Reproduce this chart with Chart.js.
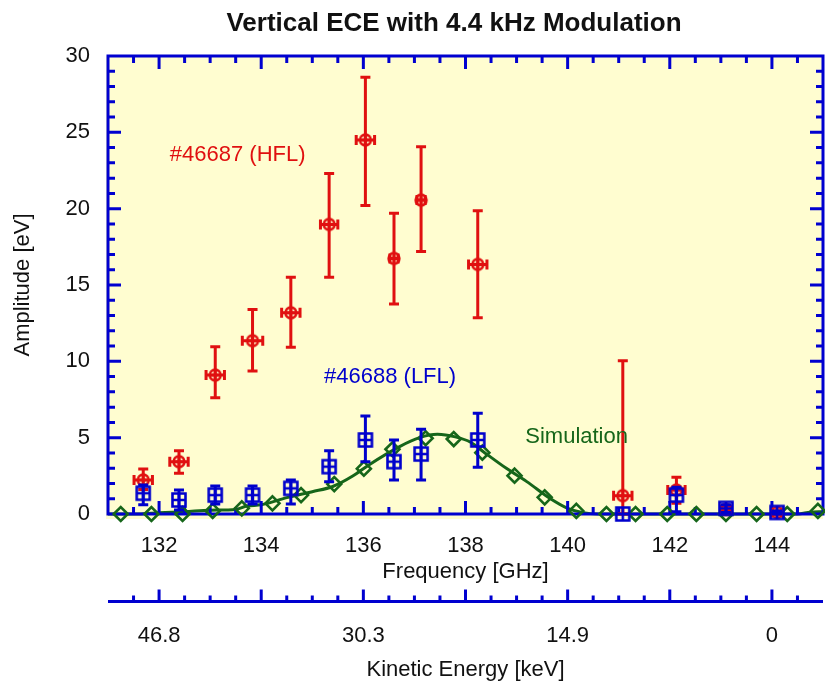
<!DOCTYPE html>
<html>
<head>
<meta charset="utf-8">
<script src="https://cdn.jsdelivr.net/npm/chart.js@4.4.4/dist/chart.umd.min.js"></script>
<style>
  html, body { margin: 0; padding: 0; background: #fff; }
</style>
</head>
<body>
<canvas id="ece" width="825" height="684"></canvas>
<script>
// ── Data ───────────────────────────────────────────────────────────────────
// ECE channel frequencies [GHz], shared by both discharges
const channels = [131.69, 132.39, 133.1, 133.83, 134.58, 135.33, 136.04, 136.6, 137.13, 138.24, 141.08, 142.13, 143.1, 144.1];

// #46687 (HFL)
const hflAmp  = [2.23, 3.43, 9.1, 11.35, 13.18, 18.97, 24.5, 16.74, 20.56, 16.35, 1.2, 1.57, 0.3, 0.1];
const hflLo   = [1.6, 2.67, 7.62, 9.36, 10.92, 15.5, 20.2, 13.75, 17.2, 12.86, 0.0, 0.7, 0.1, 0.0];
const hflHi   = [2.95, 4.15, 10.96, 13.4, 15.5, 22.3, 28.6, 19.7, 24.05, 19.86, 10.04, 2.4, 0.5, 0.2];
const hflFErr = [0.18, 0.18, 0.18, 0.2, 0.18, 0.17, 0.18, 0.08, 0.08, 0.18, 0.18, 0.17, 0.1, 0.1];

// #46688 (LFL)
const lflAmp = [1.36, 0.92, 1.24, 1.24, 1.68, 3.1, 4.85, 3.43, 3.93, 4.85, 0.0, 1.24, 0.37, 0.1];
const lflLo  = [0.6, 0.26, 0.65, 0.65, 0.65, 2.12, 3.43, 2.23, 2.23, 3.06, 0.0, 0.15, 0.1, 0.0];
const lflHi  = [1.9, 1.57, 1.83, 1.83, 2.23, 4.15, 6.42, 4.85, 5.55, 6.6, 0.0, 1.75, 0.6, 0.2];

// Simulation, sampled points (diamonds)
const simF = [131.25, 131.85, 132.46, 133.05, 133.62, 134.22, 134.78, 135.43, 136.01, 136.57, 137.22, 137.77,
              138.33, 138.96, 139.55, 140.17, 140.76, 141.33, 141.95, 142.52, 143.1, 143.7, 144.3, 144.9];
const simV = [0, 0, 0, 0.2, 0.37, 0.7, 1.24, 1.96, 2.97, 4.24, 4.96, 4.91,
              4.02, 2.51, 1.09, 0.2, 0, 0, 0, 0, 0, 0, 0, 0.2];

// Simulation, smooth curve
const curveF = [131.0, 131.6, 132.0, 132.5, 133.0, 133.5, 133.72, 134.0, 134.5, 135.0, 135.4, 135.8, 136.1, 136.7,
                137.1, 137.45, 137.8, 138.1, 138.35, 138.8, 139.2, 139.65, 140.0, 140.3, 140.6, 141.0, 142.0,
                143.0, 144.0, 144.5, 144.75, 145.0];
const curveV = [0, 0, 0.08, 0.15, 0.25, 0.3, 0.52, 0.6, 1.07, 1.46, 1.8, 2.5, 3.2, 4.4,
                5.0, 5.22, 5.05, 4.7, 4.08, 2.99, 2.12, 1.03, 0.37, 0.09, 0, 0, 0,
                0, 0, 0, 0.12, 0.15];

// Axes
const freqTicks    = [132, 134, 136, 138, 140, 142, 144];
const keTickFreq   = [132, 136, 140, 144];
const keTickLabels = ['46.8', '30.3', '14.9', '0'];

// ── Style ──────────────────────────────────────────────────────────────────
const FONT   = "'Liberation Sans', Arial, Helvetica, sans-serif";
const RED    = '#e01010';
const BLUE   = '#0000cc';
const GREEN  = '#16661a';
const FRAME  = '#0000d0';
const PAPER  = '#fffdd0';
const INK    = '#111';

const TITLE = 'Vertical ECE with 4.4 kHz Modulation';

const tickFont  = { family: FONT, size: 22 };
const titleFont = { family: FONT, size: 22 };

const notes = [
  { text: '#46687 (HFL)', f: 132.21, v: 23.5, color: RED },
  { text: '#46688 (LFL)', f: 135.23, v: 9.0,  color: BLUE },
  { text: 'Simulation',   f: 139.17, v: 5.05, color: GREEN },
];

// ── Helpers ────────────────────────────────────────────────────────────────
function marker(kind, color) {
  const s = 20, m = s / 2, c = document.createElement('canvas');
  c.width = c.height = s;
  const g = c.getContext('2d');
  g.strokeStyle = color;
  g.lineWidth = 2.6;
  g.beginPath();
  if (kind === 'circle') {
    g.arc(m, m, 5.4, 0, Math.PI * 2);
    g.moveTo(m - 5.4, m); g.lineTo(m + 5.4, m);
    g.moveTo(m, m - 5.4); g.lineTo(m, m + 5.4);
  } else {
    g.rect(m - 6.5, m - 6.5, 13, 13);
    g.moveTo(m - 6.5, m); g.lineTo(m + 6.5, m);
    g.moveTo(m, m - 6.5); g.lineTo(m, m + 6.5);
  }
  g.stroke();
  return c;
}

const pts = (xs, ys) => xs.map((x, i) => ({ x, y: ys[i] }));

function drawErrorBars(chart, ds) {
  const { ctx } = chart, xs = chart.scales.x, ys = chart.scales.y;
  ctx.save();
  ctx.strokeStyle = ds.errColor;
  ctx.lineWidth = 3;
  ds.data.forEach((p, i) => {
    const px = xs.getPixelForValue(p.x);
    const lo = ys.getPixelForValue(ds.yLo[i]), hi = ys.getPixelForValue(ds.yHi[i]);
    ctx.beginPath();
    if (lo - hi > 1) {
      ctx.moveTo(px, lo); ctx.lineTo(px, hi);
      ctx.moveTo(px - 5, lo); ctx.lineTo(px + 5, lo);
      ctx.moveTo(px - 5, hi); ctx.lineTo(px + 5, hi);
    }
    if (ds.fErr) {
      const l = xs.getPixelForValue(p.x - ds.fErr[i]), r = xs.getPixelForValue(p.x + ds.fErr[i]);
      const py = ys.getPixelForValue(p.y);
      ctx.moveTo(l, py); ctx.lineTo(r, py);
      ctx.moveTo(l, py - 5); ctx.lineTo(l, py + 5);
      ctx.moveTo(r, py - 5); ctx.lineTo(r, py + 5);
    }
    ctx.stroke();
  });
  ctx.restore();
}

function drawFrame(chart) {
  const { ctx, chartArea: a } = chart, xs = chart.scales.x, ys = chart.scales.y;
  ctx.save();
  ctx.strokeStyle = FRAME;
  ctx.lineWidth = 3;
  ctx.strokeRect(a.left, a.top, a.right - a.left, a.bottom - a.top);
  ctx.beginPath();
  for (let f = xs.min + 0.5; f < xs.max; f += 0.5) {
    const px = xs.getPixelForValue(f), len = f % 2 === 0 ? 13 : 7;
    ctx.moveTo(px, a.bottom); ctx.lineTo(px, a.bottom - len);
    ctx.moveTo(px, a.top);    ctx.lineTo(px, a.top + len);
  }
  for (let v = ys.min + 1; v < ys.max; v += 1) {
    const py = ys.getPixelForValue(v), len = v % 5 === 0 ? 13 : 7;
    ctx.moveTo(a.left, py);  ctx.lineTo(a.left + len, py);
    ctx.moveTo(a.right, py); ctx.lineTo(a.right - len, py);
  }
  ctx.stroke();
  ctx.restore();
}

function drawKeAxis(chart) {
  const { ctx, chartArea: a } = chart, s = chart.scales.x2;
  const y = s.top + 1.5;
  ctx.save();
  ctx.strokeStyle = FRAME;
  ctx.lineWidth = 3;
  ctx.beginPath();
  ctx.moveTo(a.left, y); ctx.lineTo(a.right, y);
  for (let f = s.min + 0.5; f < s.max; f += 0.5) {
    const px = s.getPixelForValue(f), len = f % 2 === 0 ? 12 : 6;
    ctx.moveTo(px, y); ctx.lineTo(px, y - len);
  }
  ctx.stroke();
  ctx.restore();
}

function drawText(chart) {
  const { ctx } = chart, xs = chart.scales.x, ys = chart.scales.y;
  ctx.save();
  // title sits a little left of the plot centre, as in the original
  ctx.font = `bold 26px ${FONT}`;
  ctx.fillStyle = INK;
  ctx.textAlign = 'center';
  ctx.textBaseline = 'alphabetic';
  ctx.fillText(TITLE, 454, 31);

  ctx.font = `22px ${FONT}`;
  ctx.textAlign = 'left';
  ctx.textBaseline = 'middle';
  for (const n of notes) {
    ctx.fillStyle = n.color;
    ctx.fillText(n.text, xs.getPixelForValue(n.f), ys.getPixelForValue(n.v));
  }
  ctx.restore();
}

const decor = {
  id: 'decor',
  beforeDraw(chart) {
    const { ctx, chartArea: a } = chart;
    ctx.save();
    ctx.fillStyle = PAPER;
    ctx.fillRect(a.left - 2, a.top, a.right - a.left + 2, a.bottom - a.top + 5);
    ctx.restore();
  },
  beforeDatasetDraw(chart, args) {
    const ds = chart.data.datasets[args.index];
    if (ds.yLo) drawErrorBars(chart, ds);
  },
  afterDatasetDraw(chart, args) {
    if (chart.data.datasets[args.index].frameAbove) drawFrame(chart);
  },
  afterDraw(chart) {
    drawKeAxis(chart);
    drawText(chart);
  },
};

// ── Chart ──────────────────────────────────────────────────────────────────
// dataset 0 is drawn on top, the last one at the bottom
new Chart(document.getElementById('ece'), {
  type: 'scatter',
  data: {
    datasets: [
      { label: '#46688 (LFL)', data: pts(channels, lflAmp), yLo: lflLo, yHi: lflHi, errColor: BLUE,
        pointStyle: marker('square', BLUE), clip: false },
      { label: '#46687 (HFL)', data: pts(channels, hflAmp), yLo: hflLo, yHi: hflHi, fErr: hflFErr, errColor: RED,
        pointStyle: marker('circle', RED), clip: false },
      { label: 'Simulation points', data: pts(simF, simV), pointStyle: 'rectRot', pointRadius: 7,
        borderColor: GREEN, backgroundColor: 'rgba(0,0,0,0)', borderWidth: 2.6, clip: false },
      { label: 'Simulation', data: pts(curveF, curveV), showLine: true, pointRadius: 0,
        borderColor: GREEN, borderWidth: 3, cubicInterpolationMode: 'monotone', clip: false, frameAbove: true },
    ],
  },
  options: {
    responsive: false,
    animation: false,
    events: [],
    layout: { autoPadding: false, padding: { left: 0, right: 2, top: 56, bottom: 0 } },
    plugins: {
      legend: { display: false },
      tooltip: { enabled: false },
      title: { display: false },
    },
    scales: {
      x: {
        type: 'linear', position: 'bottom', min: 131, max: 145,
        afterBuildTicks: s => { s.ticks = freqTicks.map(value => ({ value })); },
        afterFit: s => { s.height = 86; },
        grid: { display: false, drawTicks: false },
        border: { display: false },
        ticks: { font: tickFont, color: INK, padding: 19, maxRotation: 0, autoSkip: false },
        title: { display: true, text: 'Frequency [GHz]', font: titleFont, color: INK, padding: { top: 0, bottom: 15 } },
      },
      x2: {
        type: 'linear', position: 'bottom', weight: 1, min: 131, max: 145,
        afterBuildTicks: s => { s.ticks = keTickFreq.map(value => ({ value })); },
        afterFit: s => { s.height = 84; },
        grid: { display: false, drawTicks: false },
        border: { display: false },
        ticks: {
          font: tickFont, color: INK, padding: 23, maxRotation: 0, autoSkip: false,
          callback: v => keTickLabels[keTickFreq.indexOf(v)],
        },
        title: { display: true, text: 'Kinetic Energy [keV]', font: titleFont, color: INK, padding: { top: 0, bottom: 1 } },
      },
      y: {
        type: 'linear', min: 0, max: 30,
        afterFit: s => { s.width = 108; },
        grid: { display: false, drawTicks: false },
        border: { display: false },
        ticks: { stepSize: 5, font: tickFont, color: INK, padding: 18 },
        title: { display: true, text: 'Amplitude [eV]', font: titleFont, color: INK, padding: { top: 10, bottom: 0 } },
      },
    },
  },
  plugins: [decor],
});
</script>
</body>
</html>
